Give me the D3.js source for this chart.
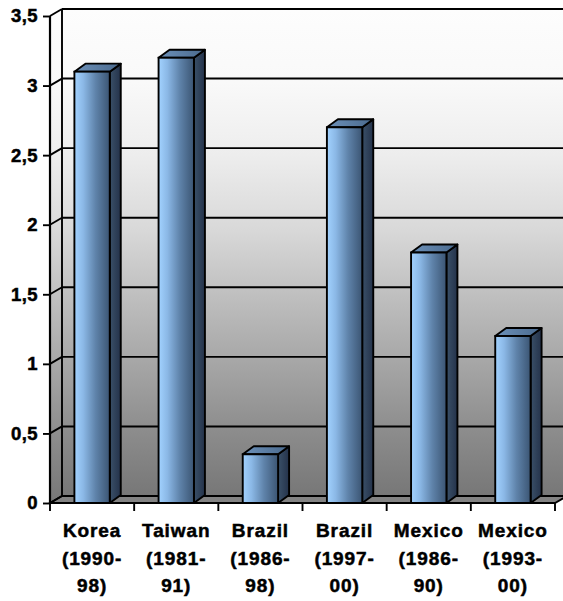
<!DOCTYPE html>
<html>
<head>
<meta charset="utf-8">
<script src="https://cdn.jsdelivr.net/npm/d3@7"></script>
<style>
  html, body { margin: 0; padding: 0; background: #fff; }
  svg { display: block; }
  text { font-family: "Liberation Sans", Arial, sans-serif; font-weight: bold; fill: #000; stroke: #000; stroke-width: 0.5px; }
</style>
</head>
<body>
<svg id="chart" width="563" height="601"></svg>
<script>
// Category labels (one entry per text line) and values
const categories = ["Korea (1990-98)", "Taiwan (1981-91)", "Brazil (1986-98)", "Brazil (1997-00)", "Mexico (1986-90)", "Mexico (1993-00)"];
const labelLines = [["Korea", "(1990-", "98)"], ["Taiwan", "(1981-", "91)"], ["Brazil", "(1986-", "98)"], ["Brazil", "(1997-", "00)"], ["Mexico", "(1986-", "90)"], ["Mexico", "(1993-", "00)"]];
const values = [3.1, 3.2, 0.35, 2.7, 1.8, 1.2];
const yTicks = [0, 0.5, 1, 1.5, 2, 2.5, 3, 3.5];

const svg = d3.select("#chart");
const defs = svg.append("defs");

// plot frame (front plane) and depth offset of the back wall
const plotLeft = 50, plotRight = 555, plotTop = 16, plotBottom = 503;
const wallDx = 12, wallDy = -7;
const barDx = 11, barDy = -8;

const x = d3.scaleBand().domain(categories).range([plotLeft, plotRight]).padding(0);
const y = d3.scaleLinear().domain([0, 3.5]).range([plotBottom, plotTop]);
const fmt = d3.formatLocale({ decimal: ",", thousands: ".", grouping: [3], currency: ["", ""] }).format("~g");

// gradients
const wallGrad = defs.append("linearGradient").attr("id", "wall").attr("x1", 0).attr("y1", 0).attr("x2", 0).attr("y2", 1);
[[0, "#fdfdfd"], [0.15, "#f9f9f9"], [0.3, "#ededed"], [0.45, "#d9d9d9"], [0.6, "#bdbdbd"], [0.75, "#a2a2a2"], [0.88, "#8a8a8a"], [1, "#777777"]]
  .forEach(([o, c]) => wallGrad.append("stop").attr("offset", o).attr("stop-color", c));

const frontGrad = defs.append("linearGradient").attr("id", "barFront").attr("x1", 0).attr("y1", 0).attr("x2", 1).attr("y2", 0);
[[0, "#a2d2ff"], [0.25, "#8bb8e6"], [0.6, "#5f83aa"], [1, "#3b5573"]]
  .forEach(([o, c]) => frontGrad.append("stop").attr("offset", o).attr("stop-color", c));

const sideGrad = defs.append("linearGradient").attr("id", "barSide").attr("x1", 0).attr("y1", 0).attr("x2", 1).attr("y2", 0);
[[0, "#3a5068"], [1, "#24324a"]]
  .forEach(([o, c]) => sideGrad.append("stop").attr("offset", o).attr("stop-color", c));

const topGrad = defs.append("linearGradient").attr("id", "barTop").attr("x1", 0).attr("y1", 0).attr("x2", 1).attr("y2", 0);
[[0, "#6c90b8"], [1, "#4a6a8e"]]
  .forEach(([o, c]) => topGrad.append("stop").attr("offset", o).attr("stop-color", c));

// back wall
const bx0 = plotLeft + wallDx, bx1 = plotRight + wallDx, by0 = y(3.5) + wallDy, by1 = y(0) + wallDy;
svg.append("rect").attr("x", bx0).attr("y", by0).attr("width", bx1 - bx0).attr("height", by1 - by0).attr("fill", "url(#wall)");

// left side wall
svg.append("path")
  .attr("d", `M${plotLeft},${y(3.5)}L${bx0},${by0}L${bx0},${by1}L${plotLeft},${y(0)}Z`)
  .attr("fill", "url(#wall)");

// floor
svg.append("path")
  .attr("d", `M${plotLeft},${y(0)}L${bx0},${by1}L${bx1},${by1}L${plotRight},${y(0)}Z`)
  .attr("fill", "#838383").attr("stroke", "#000").attr("stroke-width", 1.8);

// gridlines on back wall and side wall
const grid = svg.append("g").attr("stroke", "#000").attr("stroke-width", 1.9).attr("fill", "none");
yTicks.forEach(t => {
  grid.append("line").attr("x1", bx0).attr("x2", bx1 + 10).attr("y1", y(t) + wallDy).attr("y2", y(t) + wallDy);
  grid.append("line").attr("x1", plotLeft).attr("y1", y(t)).attr("x2", bx0).attr("y2", y(t) + wallDy);
});
grid.append("line").attr("x1", bx0).attr("x2", bx0).attr("y1", by0).attr("y2", by1);

// bars
const bw = x.bandwidth() * 0.42;
const bars = svg.append("g").selectAll("g").data(categories).join("g");
bars.each(function (c, i) {
  const g = d3.select(this);
  const x0 = x(c) + (x.bandwidth() - bw) / 2, x1 = x0 + bw;
  const yt = y(values[i]), yb = y(0);
  g.append("path")
    .attr("d", `M${x1},${yt}L${x1 + barDx},${yt + barDy}L${x1 + barDx},${yb + barDy}L${x1},${yb}Z`)
    .attr("fill", "url(#barSide)").attr("stroke", "#000").attr("stroke-width", 1.9).attr("stroke-linejoin", "round");
  g.append("path")
    .attr("d", `M${x0},${yt}L${x0 + barDx},${yt + barDy}L${x1 + barDx},${yt + barDy}L${x1},${yt}Z`)
    .attr("fill", "url(#barTop)").attr("stroke", "#000").attr("stroke-width", 1.9).attr("stroke-linejoin", "round");
  g.append("rect")
    .attr("x", x0).attr("y", yt).attr("width", bw).attr("height", yb - yt)
    .attr("fill", "url(#barFront)").attr("stroke", "#000").attr("stroke-width", 1.9);
});

// y axis
const yAxis = svg.append("g").attr("transform", `translate(${plotLeft},0)`)
  .call(d3.axisLeft(y).tickValues(yTicks).tickSize(7).tickPadding(5).tickFormat(fmt));
yAxis.select(".domain").attr("stroke", "#000").attr("stroke-width", 2.2).attr("d", `M0,${y(3.5)}V${y(0)}`);
yAxis.selectAll(".tick line").attr("stroke", "#000").attr("stroke-width", 1.9);
yAxis.selectAll(".tick text").attr("font-size", 18.5).attr("letter-spacing", 0.4)
  .style("font-family", "'Liberation Sans', Arial, sans-serif").style("font-weight", "bold").attr("fill", "#000");

// x axis with ticks at category boundaries
const xg = svg.append("g");
xg.append("line").attr("x1", plotLeft).attr("x2", plotRight).attr("y1", plotBottom).attr("y2", plotBottom)
  .attr("stroke", "#000").attr("stroke-width", 2.2);
const bounds = categories.map(c => x(c)).concat([plotRight]);
xg.selectAll("line.tk").data(bounds).join("line").attr("class", "tk")
  .attr("x1", d => d).attr("x2", d => d).attr("y1", plotBottom).attr("y2", plotBottom + 8)
  .attr("stroke", "#000").attr("stroke-width", 1.9);

// category labels
const labels = svg.append("g").selectAll("text").data(categories).join("text")
  .attr("text-anchor", "middle").attr("font-size", 19).attr("letter-spacing", 0.9);
labels.each(function (c, i) {
  const t = d3.select(this);
  labelLines[i].forEach((line, k) => {
    t.append("tspan").attr("x", x(c) + x.bandwidth() / 2).attr("y", 537 + k * 27.5).text(line);
  });
});
</script>
</body>
</html>
